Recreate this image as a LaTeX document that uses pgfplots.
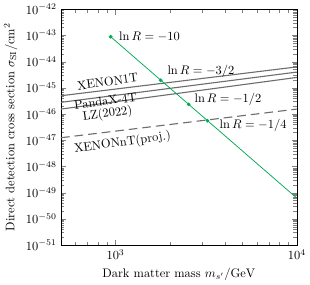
\documentclass[border=0pt]{standalone}
\usepackage{pgfplots}
\pgfplotsset{compat=1.18}
\definecolor{lgreen}{RGB}{0,170,85}
\definecolor{lgray}{RGB}{110,110,110}
\begin{document}
\begin{tikzpicture}
\begin{axis}[
  xmode=log, ymode=log,
  scale only axis,
  width=190pt, height=190pt,
  xmin=500, xmax=10000,
  ymin=1e-51, ymax=1e-42,
  ytick={1e-51,1e-50,1e-49,1e-48,1e-47,1e-46,1e-45,1e-44,1e-43,1e-42},
  xtick={1000,10000},
  minor xtick={500,600,700,800,900,2000,3000,4000,5000,6000,7000,8000,9000},
  xlabel={Dark matter mass $m_{s'}/\mathrm{GeV}$},
  ylabel={Direct detection cross section $\sigma_{\mathrm{SI}}/\mathrm{cm}^2$},
  tick align=inside,
  clip=true,
]
% experimental limits
\addplot[lgray, line width=0.9pt] coordinates {(500,5.0e-46) (10000,6.3e-45)};
\addplot[lgray, line width=0.9pt] coordinates {(500,2.8e-46) (10000,4.0e-45)};
\addplot[lgray, line width=0.9pt] coordinates {(500,1.55e-46) (10000,2.5e-45)};
\addplot[lgray, line width=0.9pt, dash pattern=on 7pt off 4pt] coordinates {(500,1.25e-47) (10000,1.55e-46)};
% model line
\addplot[lgreen, line width=0.6pt] coordinates {(940,8.9e-44) (10000,6.2e-50)};
\addplot[lgreen, only marks, mark=*, mark size=1.3pt] coordinates {(940,8.9e-44) (1774,1.95e-45) (2530,2.34e-46) (3210,5.6e-47)};
% labels
\node[anchor=west] at (axis cs:990,8.9e-44) {$\ln R=-10$};
\node[anchor=west] at (axis cs:1830,4.2e-45) {$\ln R=-3/2$};
\node[anchor=west] at (axis cs:2580,3.5e-46) {$\ln R=-1/2$};
\node[anchor=west] at (axis cs:3550,3.6e-47) {$\ln R=-1/4$};
\node[rotate=8, inner sep=0pt] at (axis cs:904,1.7e-45) {XENON1T};
\node[rotate=8, inner sep=0pt] at (axis cs:880,3.1e-46) {PandaX-4T};
\node[rotate=8, inner sep=0pt] at (axis cs:903,1.0e-46) {LZ(2022)};
\node[rotate=8, inner sep=0pt] at (axis cs:1093,8.0e-48) {XENONnT(proj.)};
\end{axis}
\end{tikzpicture}
\end{document}
